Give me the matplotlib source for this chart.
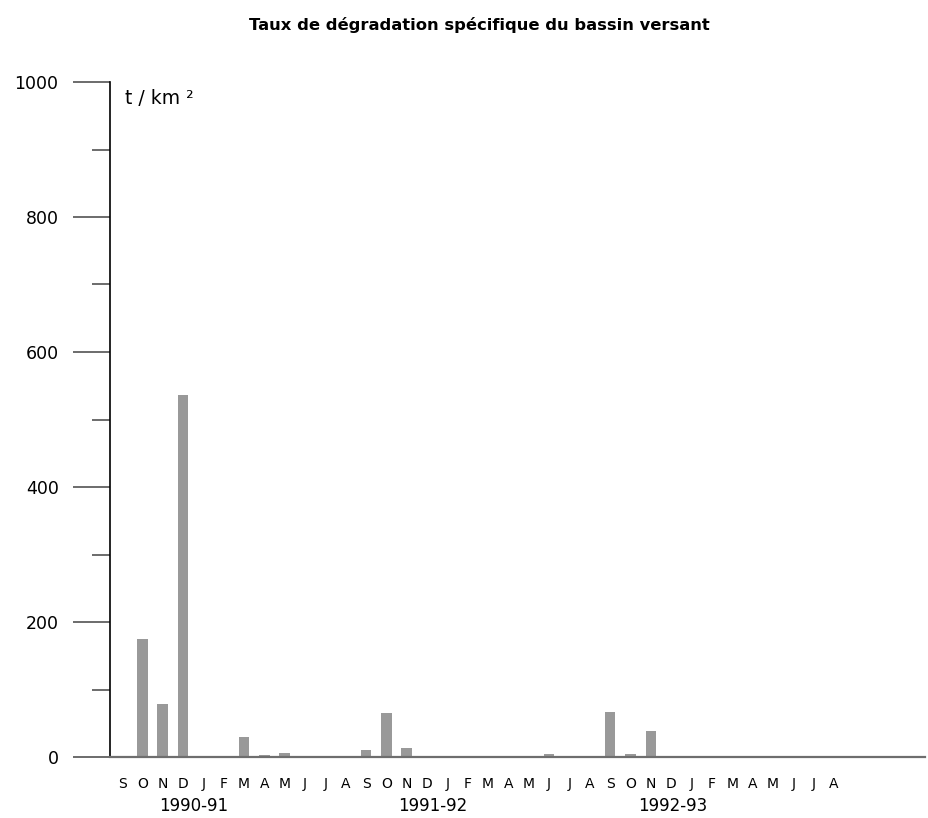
import matplotlib
matplotlib.use("Agg")
import matplotlib.pyplot as plt
from matplotlib.ticker import MultipleLocator
import numpy as np

months = ["S", "O", "N", "D", "J", "F", "M", "A", "M", "J", "J", "A"] * 3
years = ["1990-91", "1991-92", "1992-93"]
year_pos = [3.5, 15.3, 27.1]

values_1990_91 = [0, 175, 78, 537, 0, 0, 29, 2.5, 5.5, 1, 0, 0]
values_1991_92 = [11, 65, 13, 0, 0, 0, 0, 0.5, 0, 4, 0, 0]
values_1992_93 = [66, 4, 38, 0, 0, 0, 0, 0, 0.3, 0, 0, 0]
values = values_1990_91 + values_1991_92 + values_1992_93

title = "Taux de dégradation spécifique du bassin versant"
unit = "t / km ²"

W, H = 929, 818
fig = plt.figure(figsize=(W / 100, H / 100), dpi=100)
ax = fig.add_axes([110 / W, 61 / H, (925 - 110) / W, (757 - 82) / H])

x = np.arange(len(values))
ax.bar(x, values, width=0.52, color="#999999", edgecolor="none")

ax.set_xlim(-0.59, 39.48)
ax.set_ylim(0, 1000)

for s in ["top", "right"]:
    ax.spines[s].set_visible(False)
ax.spines["left"].set_color("black")
ax.spines["left"].set_linewidth(1.2)
ax.spines["bottom"].set_color("#6e6e6e")
ax.spines["bottom"].set_linewidth(1.6)

ax.yaxis.set_major_locator(MultipleLocator(200))
ax.yaxis.set_minor_locator(MultipleLocator(100))
ax.tick_params(axis="y", which="major", length=26.5, width=1.1, color="#444444",
               pad=10.5, labelsize=12.5)
ax.tick_params(axis="y", which="minor", length=13, width=1.1, color="#444444")
ax.set_yticks([0, 200, 400, 600, 800, 1000])
ax.set_yticklabels(["0", "200", "400", "600", "800", "1000"])

ax.set_xticks(x)
ax.set_xticklabels(months, fontsize=10)
ax.tick_params(axis="x", length=0, pad=14.5)

for yl, xp in zip(years, year_pos):
    ax.text(xp, -0.073, yl, transform=ax.get_xaxis_transform(), ha="center",
            va="center", fontsize=12)

fig.text(125 / W, 1 - 98 / H, unit, ha="left", va="center", fontsize=13.5)
fig.text(479 / W, 1 - 25 / H, title, ha="center", va="center", fontsize=11.8,
         fontweight="bold")

fig.savefig("out.png", dpi=100, facecolor="white")
